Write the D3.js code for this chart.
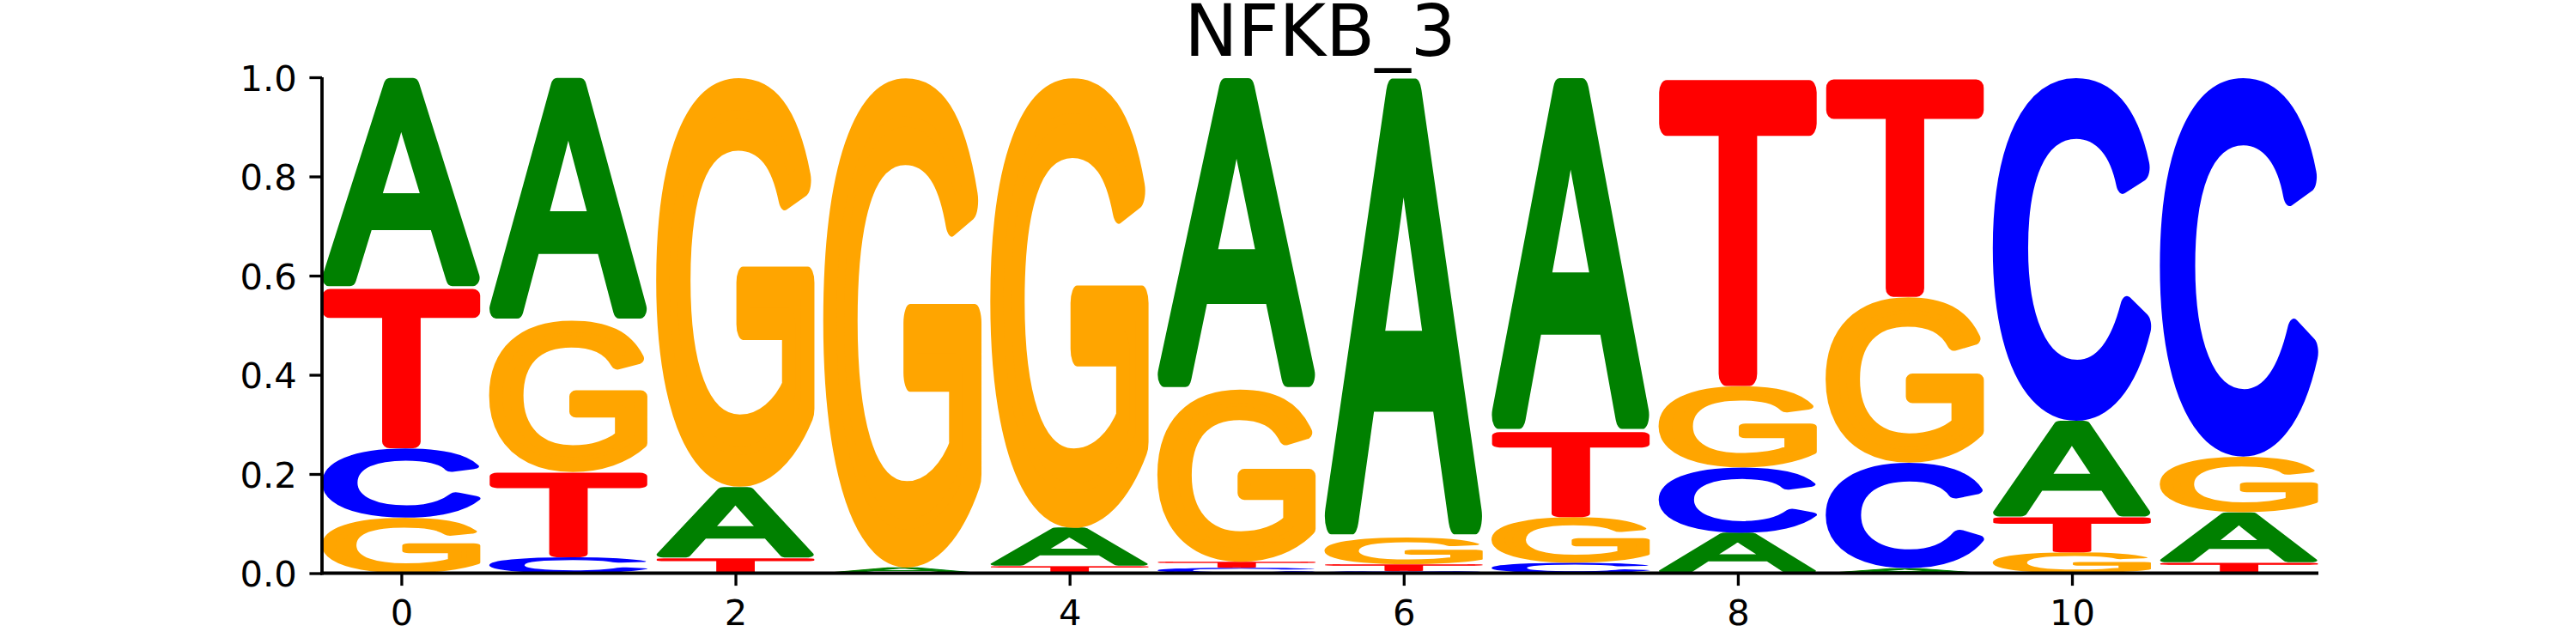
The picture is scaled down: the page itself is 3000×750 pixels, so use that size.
<!DOCTYPE html>
<html><head><meta charset="utf-8">
<script src="https://cdn.jsdelivr.net/npm/d3@7"></script>
<style>html,body{margin:0;padding:0;background:#fff;}</style>
</head><body>
<svg id="chart" width="3000" height="750" xmlns="http://www.w3.org/2000/svg"></svg>
<script>
// ---------------- data ----------------
const chartTitle = "NFKB_3";
const letters = ["A", "C", "G", "T"];
const letterColors = ["#008000", "#0000ff", "#ffa500", "#ff0000"];
const positions = [0, 1, 2, 3, 4, 5, 6, 7, 8, 9, 10, 11];
const probA = [0.424, 0.490, 0.144, 0.011, 0.077, 0.629, 0.928, 0.714, 0.0815, 0.010, 0.194, 0.102];
const probC = [0.140, 0.032, 0.000, 0.000, 0.000, 0.011, 0.004, 0.021, 0.132, 0.213, 0.693, 0.765];
const probG = [0.112, 0.306, 0.826, 0.989, 0.909, 0.348, 0.054, 0.092, 0.164, 0.334, 0.042, 0.112];
const probT = [0.324, 0.172, 0.030, 0.000, 0.014, 0.012, 0.014, 0.173, 0.6225, 0.443, 0.071, 0.021];
const xTickValues = [0, 2, 4, 6, 8, 10];
const yTickValues = [0, 0.2, 0.4, 0.6, 0.8, 1.0];

(function () {
// ---------------- layout ----------------
const axLeft = 375, axRight = 2700, axTop = 90, axBottom = 667.5;
const glyphWidth = 0.95;
const tickFont = "'DejaVu Sans', sans-serif";
const tickSize = 41.7;

const svg = d3.select("#chart");
const x = d3.scaleLinear().domain([-glyphWidth / 2, positions.length - 1 + glyphWidth / 2]).range([axLeft, axRight]);
const y = d3.scaleLinear().domain([0, 1]).range([axBottom, axTop]);

// glyph measurement on canvas (rounded look: regular weight + round-joined stroke)
const FS = 200, STROKE = 12;
const glyphFontCss = "400 " + FS + "px 'Liberation Sans'";
const cv = document.createElement("canvas");
const ctx = cv.getContext("2d");
ctx.font = glyphFontCss;
const gm = {};
letters.forEach(l => {
  const m = ctx.measureText(l);
  gm[l] = {
    l: -m.actualBoundingBoxLeft - STROKE / 2,
    r: m.actualBoundingBoxRight + STROKE / 2,
    t: -m.actualBoundingBoxAscent - STROKE / 2,
    b: m.actualBoundingBoxDescent + STROKE / 2
  };
});

const probs = [probA, probC, probG, probT];
const gLogo = svg.append("g");
positions.forEach((p, i) => {
  const col = letters.map((l, k) => ({ l, c: letterColors[k], v: probs[k][i] }))
    .filter(d => d.v > 0)
    .sort((a, b) => a.v - b.v);
  let floor = 0;
  col.forEach(d => {
    const x0 = x(p - glyphWidth / 2), x1 = x(p + glyphWidth / 2);
    const yTop = y(floor + d.v), yBot = y(floor);
    const m = gm[d.l];
    const sx = (x1 - x0) / (m.r - m.l);
    const sy = (yBot - yTop) / (m.b - m.t);
    gLogo.append("text")
      .attr("x", 0).attr("y", 0)
      .attr("transform", `translate(${x0},${yTop}) scale(${sx},${sy}) translate(${-m.l},${-m.t})`)
      .style("font", glyphFontCss)
      .attr("fill", d.c)
      .attr("stroke", d.c)
      .attr("stroke-width", STROKE)
      .attr("stroke-linejoin", "round")
      .attr("stroke-linecap", "round")
      .text(d.l);
    floor += d.v;
  });
});

// ---------------- axes ----------------
const yAxis = d3.axisLeft(y).tickValues(yTickValues).tickFormat(d3.format(".1f")).tickSize(14.6).tickPadding(14.6);
const gy = svg.append("g").attr("transform", `translate(${axLeft},0)`).call(yAxis);
gy.select(".domain").remove();
gy.selectAll(".tick line").attr("stroke", "#000").attr("stroke-width", 3.3);
gy.selectAll(".tick text").attr("dy", "0.365em").style("font-family", tickFont).style("font-size", tickSize + "px").attr("fill", "#000");

const xAxis = d3.axisBottom(x).tickValues(xTickValues).tickFormat(d3.format("d")).tickSize(14.6).tickPadding(14.6);
const gx = svg.append("g").attr("transform", `translate(0,${axBottom})`).call(xAxis);
gx.select(".domain").remove();
gx.selectAll(".tick line").attr("stroke", "#000").attr("stroke-width", 3.3);
gx.selectAll(".tick text").attr("dy", null).attr("y", 60.5).style("font-family", tickFont).style("font-size", tickSize + "px").attr("fill", "#000");

// spines
svg.append("line").attr("x1", axLeft).attr("x2", axLeft).attr("y1", axTop).attr("y2", axBottom + 2)
  .attr("stroke", "#000").attr("stroke-width", 3.8);
svg.append("line").attr("x1", axLeft - 2).attr("x2", axRight).attr("y1", axBottom).attr("y2", axBottom)
  .attr("stroke", "#000").attr("stroke-width", 4.2);

// title
svg.append("text").attr("x", (axLeft + axRight) / 2).attr("y", 65)
  .attr("text-anchor", "middle")
  .style("font-family", tickFont).style("font-size", "83.3px").attr("fill", "#000")
  .text(chartTitle);
})();
</script>
</body></html>
